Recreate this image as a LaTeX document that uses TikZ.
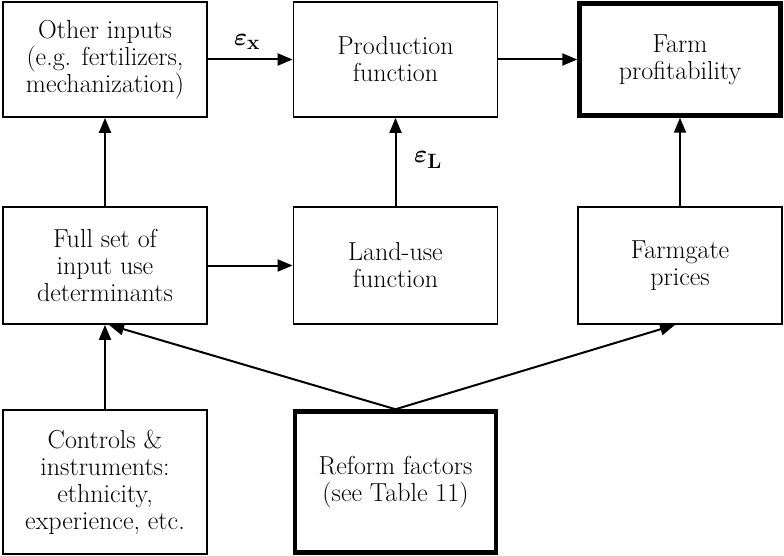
\documentclass[tikz,border=0pt]{standalone}
\usepackage{amsmath,bm}
\usetikzlibrary{arrows.meta}
\begin{document}
\begin{tikzpicture}[x=1pt,y=-1pt,
  box/.style={draw,line width=1.8pt,minimum width=204pt,align=center,inner sep=0pt,
    font=\fontsize{26}{27}\selectfont},
  thickbox/.style={box,line width=4.5pt},
  arr/.style={line width=2pt,-{Triangle[length=15pt,width=12pt]}},
  eps/.style={font=\fontsize{30}{30}\selectfont}]
\useasboundingbox (0,0) rectangle (784,556);
\node[box,minimum height=115pt] (other) at (105,59.5) {Other inputs\\(e.g. fertilizers,\\mechanization)};
\node[box,minimum height=115pt] (prod) at (395.5,59.5) {Production\\function};
\node[thickbox,minimum width=201pt,minimum height=112pt] (farm) at (680,59.5) {Farm\\profitability};
\node[box,minimum height=117pt] (full) at (105,265.5) {Full set of\\input use\\determinants};
\node[box,minimum height=117pt] (land) at (395.5,265.5) {Land-use\\function};
\node[box,minimum height=117pt] (gate) at (680,265.5) {Farmgate\\prices};
\node[box,minimum height=144pt] (ctrl) at (105,482) {Controls \&\\instruments:\\ethnicity,\\experience, etc.};
\node[thickbox,minimum width=201pt,minimum height=141pt] (reform) at (395.5,482) {Reform factors\\(see Table 11)};
\draw[arr] (other.east) -- (prod.west);
\draw[arr] (prod.east) -- (farm.west);
\draw[arr] (full.north) -- (other.south);
\draw[arr] (land.north) -- (prod.south);
\draw[arr] (gate.north) -- (farm.south);
\draw[arr] (full.east) -- (land.west);
\draw[arr] (ctrl.north) -- (full.south);
\draw[arr] (reform.north) -- ([xshift=4pt]full.south);
\draw[arr] (reform.north) -- ([xshift=-5pt]gate.south);
\node[eps] (ex) at (247,42) {$\bm{\varepsilon}_{\mathbf{x}}$};
\node[eps] (el) at (428,160) {$\bm{\varepsilon}_{\mathbf{L}}$};
\end{tikzpicture}
\end{document}
